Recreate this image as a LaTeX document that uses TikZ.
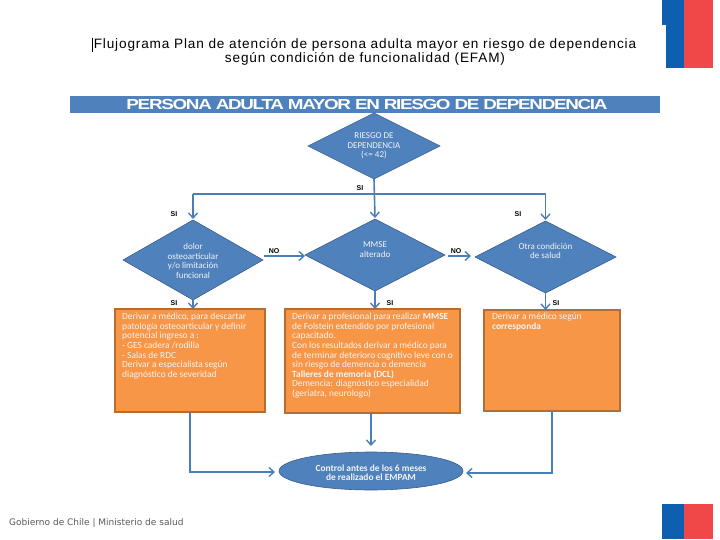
\documentclass[tikz,border=0pt]{standalone}
\usepackage{fontspec}
\setmainfont{Liberation Sans}
\newfontfamily\bodyfont{Carlito}
\newfontfamily\footfont{DejaVu Sans}
\newfontfamily\titlefont[LetterSpace=6.3]{Liberation Sans}
\newfontfamily\headfont[FakeStretch=1.3,LetterSpace=-9]{Liberation Sans}
\usetikzlibrary{shapes.geometric,arrows.meta}
\definecolor{blueA}{HTML}{4F81BD}
\definecolor{blueB}{HTML}{385D8A}
\definecolor{lineA}{HTML}{4A7EBB}
\definecolor{orangeA}{HTML}{F79646}
\definecolor{orangeB}{HTML}{B66D31}
\definecolor{flagB}{HTML}{0F5FB0}
\definecolor{flagR}{HTML}{F04848}
\definecolor{softW}{HTML}{F4F4F4}
\tikzset{
  dec/.style={diamond,draw=blueB,line width=.6pt,fill=blueA,inner sep=0pt,outer sep=0pt},
  dectext/.style={font=\bodyfont\fontsize{9}{9.5}\selectfont,text=softW,align=center,inner sep=0pt},
  boxo/.style={rectangle,draw=orangeB,line width=1.2pt,fill=orangeA,inner sep=0pt,outer sep=0pt},
  boxtext/.style={font=\bodyfont\fontsize{9.4}{9.6}\selectfont,text=softW,align=left,inner sep=0pt,anchor=north west},
  conn/.style={draw=lineA,line width=1.6pt,-{Straight Barb[length=5pt,width=9pt,line width=1.4pt]}},
  connplain/.style={draw=lineA,line width=1.6pt},
  tag/.style={font=\bfseries\fontsize{7}{8}\selectfont,inner sep=0pt,text=black},
  titletext/.style={font=\titlefont\fontsize{13.6}{14}\selectfont,inner sep=0pt},
}
\begin{document}
\begin{tikzpicture}[x=1pt,y=-1pt]
\useasboundingbox (0,0) rectangle (720,540);
% flags
\fill[flagB] (662,0) rectangle (684,25);
\fill[flagB] (666,25) rectangle (684,68);
\fill[flagR] (684,0) rectangle (713,68);
\fill[flagB] (662,504) rectangle (684,539);
\fill[flagR] (684,504) rectangle (713,539);
% title
\node[titletext] (title1) at (365,44.5) {Flujograma Plan de atención de persona adulta mayor en riesgo de dependencia};
\node[titletext] (title2) at (365,58.5) {según condición de funcionalidad (EFAM)};
\fill[black] (91.6,38) rectangle (93,52);
% header
\node[rectangle,fill=blueA,minimum width=590pt,minimum height=17pt,inner sep=0pt,anchor=north west] (head) at (70,96) {};
\node[font=\headfont\bfseries\fontsize{14.5}{15}\selectfont,text=white,inner sep=0pt] (headt) at (367,105) {PERSONA ADULTA MAYOR EN RIESGO DE DEPENDENCIA};
% diamonds
\node[dec,minimum width=132pt,minimum height=66pt] (d1) at (374,146) {};
\node[dec,minimum width=140pt,minimum height=80pt] (d2) at (193,260) {};
\node[dec,minimum width=140pt,minimum height=72pt] (d3) at (375,255) {};
\node[dec,minimum width=141pt,minimum height=72pt] (d4) at (545.5,257) {};
\node[dectext] (d1t) at (d1.center) {RIESGO DE\\DEPENDENCIA\\(<= 42)};
\node[dectext] (d2t) at (193,261) {dolor\\osteoarticular\\y/o limitación\\funcional};
\node[dectext] (d3t) at (375,249.5) {MMSE\\alterado};
\node[dectext] (d4t) at (545.5,251) {Otra condición\\de salud};
% boxes
\node[boxo,minimum width=150pt,minimum height=103pt,anchor=north west] (b1) at (115,309) {};
\node[boxo,minimum width=175pt,minimum height=104pt,anchor=north west] (b2) at (285,309) {};
\node[boxo,minimum width=136pt,minimum height=101pt,anchor=north west] (b3) at (484,310) {};
\node[boxtext] (b1t) at (122,313) {Derivar a médico, para descartar\\patología osteoarticular y definir\\potencial ingreso a :\\- GES cadera /rodilla\\- Salas de RDC\\Derivar a especialista según\\diagnóstico de severidad};
\node[boxtext] (b2t) at (292,313) {Derivar a profesional para realizar \textbf{MMSE}\\de Folstein extendido por profesional\\capacitado.\\Con los resultados derivar a médico para\\de terminar deterioro cognitivo leve con o\\sin riesgo de demencia o demencia\\\textbf{Talleres de memoria (DCL)}\\Demencia: diagnóstico especialidad\\(geriatra, neurologo)};
\node[boxtext] (b3t) at (492,313) {Derivar a médico según\\\textbf{corresponda}};
% ellipse
\node[ellipse,draw=blueB,line width=.6pt,fill=blueA,inner sep=0pt,outer sep=0pt,minimum width=184pt,minimum height=38pt] (e) at (371,471) {};
\node[font=\bodyfont\bfseries\fontsize{9.4}{9.5}\selectfont,text=softW,align=center,inner sep=0pt] (et) at (371,472.5) {Control antes de los 6 meses\\de realizado el EMPAM};
% connectors
\coordinate (hl) at (d2.north |- 0,194);
\coordinate (hr) at (d4.north |- 0,194);
\draw[connplain] (hl) -- (hr);
\draw[conn] (hl) -- ([yshift=1pt]d2.north);
\draw[conn] (hr) -- ([yshift=1pt]d4.north);
\draw[conn] (d1.south) -- ([yshift=1pt]d3.north);
\draw[conn] (d2.east) ++(1,-4) coordinate (n1s) -- (n1s -| d3.west);
\draw[conn] (d3.east) ++(3,1) coordinate (n2s) -- ([xshift=-4pt]n2s -| d4.west);
\draw[conn] (d2.south) -- (b1.north -| d2.south);
\draw[conn] (d3.south) -- (b2.north -| d3.south);
\draw[conn] (d4.south) -- (b3.north -| d4.south);
\coordinate (c1) at (b1.south |- 0,472);
\coordinate (c3) at (b3.south |- 0,473);
\draw[conn] (b1.south) -- (c1) -- ([xshift=-4pt]c1 -| e.west);
\draw[conn] (b2.south) ++(-1.5,0) coordinate (c2) -- ([yshift=6pt]c2 |- e.north);
\draw[conn] (b3.south) -- (c3) -- ([xshift=3pt]c3 -| e.east);
% tags
\node[tag] (s0) at (360,188) {SI};
\node[tag] (s1) at (174,214) {SI};
\node[tag] (s2) at (518,214) {SI};
\node[tag] (s3) at (174,303) {SI};
\node[tag] (s4) at (390,303) {SI};
\node[tag] (s5) at (556,303) {SI};
\node[tag] (n1) at (274,251) {NO};
\node[tag] (n2) at (456,251) {NO};
% footer
\node[font=\footfont\fontsize{9}{10}\selectfont,text=black!65,inner sep=0pt,anchor=west] (foot) at (9,523) {Gobierno de Chile | Ministerio de salud};
\end{tikzpicture}
\end{document}
